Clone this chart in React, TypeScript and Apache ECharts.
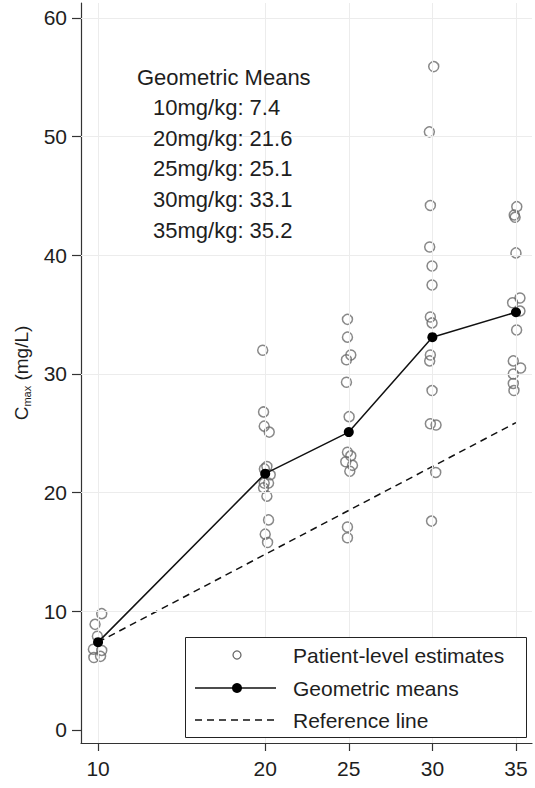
import React, { useEffect, useRef } from "react";
import * as echarts from "echarts";

// ---- data ----
const doseTicks = [10, 20, 25, 30, 35];
const yTicks = [0, 10, 20, 30, 40, 50, 60];

const dose10Patients: [number, number][] = [
  [10.22, 9.8], [9.82, 8.9], [9.96, 7.9], [9.72, 6.8], [10.22, 6.7], [9.75, 6.1], [10.15, 6.2],
];
const dose20Patients: [number, number][] = [
  [19.85, 32.0], [19.9, 26.8], [19.94, 25.6], [20.24, 25.1], [20.1, 22.2], [19.95, 22.0],
  [20.3, 21.5], [19.94, 20.8], [20.2, 20.8], [19.9, 20.4], [20.1, 19.7], [20.2, 17.7],
  [20.0, 16.5], [20.14, 15.8],
];
const dose25Patients: [number, number][] = [
  [24.92, 34.6], [24.92, 33.1], [24.86, 31.2], [25.12, 31.6], [24.86, 29.3], [25.02, 26.4],
  [24.92, 23.4], [25.12, 23.1], [24.82, 22.6], [25.22, 22.3], [25.06, 21.8], [24.92, 17.1],
  [24.92, 16.2],
];
const dose30Patients: [number, number][] = [
  [30.08, 55.9], [29.82, 50.4], [29.88, 44.2], [29.84, 40.7], [29.98, 39.1], [29.98, 37.5],
  [29.88, 34.8], [29.98, 34.3], [29.88, 31.6], [29.84, 31.1], [29.98, 28.6], [29.88, 25.8],
  [30.22, 25.7], [30.2, 21.7], [29.95, 17.6],
];
const dose35Patients: [number, number][] = [
  [35.05, 44.1], [34.9, 43.4], [34.95, 43.2], [35.0, 40.2], [34.8, 36.0], [35.24, 36.4],
  [35.24, 35.3], [35.04, 33.7], [34.84, 31.1], [35.28, 30.5], [34.84, 30.0], [34.84, 29.2],
  [34.88, 28.6],
];
const meanDoses = [10, 20, 25, 30, 35];
const meanValues = [7.4, 21.6, 25.1, 33.1, 35.2];
const referenceLine: [number, number][] = [[10, 7.4], [35, 25.9]];

const annotationTitle = "Geometric Means";
const annotationLines = meanDoses.map((d, i) => `${d}mg/kg: ${meanValues[i].toFixed(1)}`);

const legendLabels = ["Patient-level estimates", "Geometric means", "Reference line"];

const FONT = "'Liberation Sans', Arial, Helvetica, sans-serif";
const TEXT = "#1e1e1e";
const AXIS = "#333";
const GRID = "#ececec";

export default function App() {
  const ref = useRef<HTMLDivElement>(null);
  useEffect(() => {
    document.body.style.margin = "0";
    if (!ref.current) return;
    const chart = echarts.init(ref.current, undefined, { renderer: "svg" });

    const patients = [
      ...dose10Patients, ...dose20Patients, ...dose25Patients, ...dose30Patients, ...dose35Patients,
    ];

    const lgX = 185, lgTop = 637, lgBottom = 737, lgRight = 526;
    const rowY = [655, 688, 720];

    const option: any = {
      animation: false,
      backgroundColor: "#fff",
      textStyle: { fontFamily: FONT },
      grid: { left: 81, right: 3, top: 3, bottom: 45, containLabel: false },
      xAxis: {
        type: "value",
        min: 8.98,
        max: 35.96,
        axisLine: { show: true, onZero: false, lineStyle: { color: AXIS, width: 1.2 } },
        axisTick: { show: true, customValues: doseTicks, length: 8, lineStyle: { color: AXIS, width: 1.2 } },
        axisLabel: { customValues: doseTicks, fontSize: 21, color: TEXT, margin: 15, fontFamily: FONT },
        splitLine: { show: false },
      },
      yAxis: {
        type: "value",
        min: -1.1,
        max: 61.26,
        name: "{c|C}{s|max}{c| (mg/L)}",
        nameLocation: "middle",
        nameGap: 49,
        nameRotate: 90,
        nameTextStyle: {
          rich: {
            c: { fontSize: 19, color: TEXT, fontFamily: FONT, lineHeight: 22 },
            s: { fontSize: 11, color: TEXT, fontFamily: FONT, lineHeight: 11, verticalAlign: "bottom" },
          },
        },
        axisLine: { show: true, onZero: false, lineStyle: { color: AXIS, width: 1.2 } },
        axisTick: { show: true, customValues: yTicks, length: 9, lineStyle: { color: AXIS, width: 1.2 } },
        axisLabel: { customValues: yTicks, fontSize: 21, color: TEXT, margin: 14, fontFamily: FONT },
        splitLine: { show: false },
      },
      series: [
        {
          name: "grid",
          type: "line",
          data: [],
          z: 1,
          silent: true,
          markLine: {
            silent: true,
            symbol: ["none", "none"],
            label: { show: false },
            lineStyle: { color: GRID, width: 1, type: "solid" },
            data: [
              ...yTicks.filter((v) => v > 0).map((v) => ({ yAxis: v })),
              ...doseTicks.map((v) => ({ xAxis: v })),
            ],
          },
        },
        {
          name: "Patient-level estimates",
          type: "scatter",
          data: patients,
          symbol: "circle",
          symbolSize: 10,
          z: 3,
          itemStyle: { color: "rgba(0,0,0,0)", borderColor: "#6a6a6a", borderWidth: 1.5 },
        },
        {
          name: "Reference line",
          type: "line",
          data: referenceLine,
          showSymbol: false,
          symbol: "none",
          z: 4,
          lineStyle: { color: "#111", width: 1.5, type: [7, 5] },
        },
        {
          name: "Geometric means",
          type: "line",
          data: meanDoses.map((d, i) => [d, meanValues[i]]),
          symbol: "circle",
          symbolSize: 10,
          z: 5,
          lineStyle: { color: "#111", width: 1.5 },
          itemStyle: { color: "#000" },
        },
      ],
      graphic: [
        {
          type: "text",
          x: 137,
          y: 77,
          style: { text: annotationTitle, fontSize: 22, fill: TEXT, fontFamily: FONT, verticalAlign: "middle" },
          z: 20,
        },
        ...annotationLines.map((t, i) => ({
          type: "text",
          x: 153,
          y: 107.6 + i * 30.6,
          style: { text: t, fontSize: 22, fill: TEXT, fontFamily: FONT, verticalAlign: "middle" },
          z: 20,
        })),
        {
          type: "rect",
          shape: { x: lgX + 0.5, y: lgTop + 0.5, width: lgRight - lgX, height: lgBottom - lgTop },
          style: { fill: "#fff", stroke: "#222", lineWidth: 1 },
          z: 30,
        },
        {
          type: "circle",
          shape: { cx: 237, cy: rowY[0], r: 4 },
          style: { fill: "none", stroke: "#6a6a6a", lineWidth: 1.3 },
          z: 31,
        },
        {
          type: "line",
          shape: { x1: 195, y1: rowY[1], x2: 276, y2: rowY[1] },
          style: { stroke: "#111", lineWidth: 1.5 },
          z: 31,
        },
        {
          type: "circle",
          shape: { cx: 237, cy: rowY[1], r: 5 },
          style: { fill: "#000" },
          z: 32,
        },
        {
          type: "line",
          shape: { x1: 195, y1: rowY[2], x2: 276, y2: rowY[2] },
          style: { stroke: "#111", lineWidth: 1.5, lineDash: [7, 5] },
          z: 31,
        },
        ...legendLabels.map((t, i) => ({
          type: "text",
          x: 293,
          y: rowY[i],
          style: { text: t, fontSize: 21, fill: TEXT, fontFamily: FONT, verticalAlign: "middle", align: "left" },
          z: 33,
        })),
      ],
    };
    chart.setOption(option);
    return () => chart.dispose();
  }, []);
  return <div ref={ref} style={{ width: 535, height: 788 }} />;
}
